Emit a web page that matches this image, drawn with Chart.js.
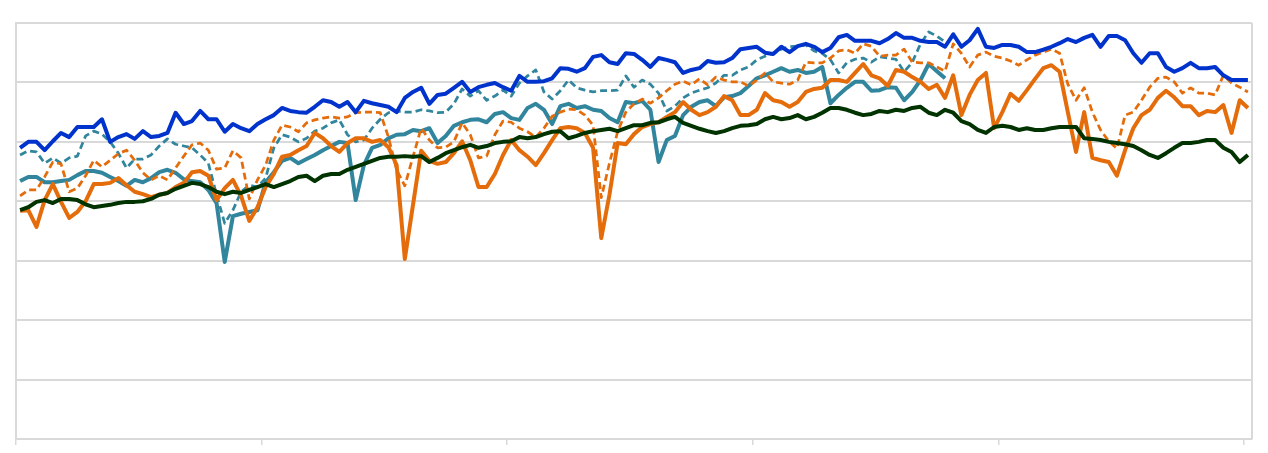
<!DOCTYPE html>
<html>
<head>
<meta charset="utf-8">
<script src="https://cdn.jsdelivr.net/npm/chart.js@4.4.0/dist/chart.umd.min.js"></script>
<style>
  html, body { margin: 0; padding: 0; background: #fff; }
  #wrap { width: 1268px; height: 453px; position: relative; }
</style>
</head>
<body>
<div id="wrap"><canvas id="chart"></canvas></div>
<script>
// ── Data (y units 0–70) ─────────────────────────────────────
const periods = Array.from({ length: 151 }, (_, i) => i);
const tickPositions = [-0.5, 29.5, 59.5, 89.5, 119.5, 149.5];

const blueSeries = [
  49.0, 50.0, 50.0, 48.6, 50.1, 51.5, 50.8, 52.5, 52.5, 52.5, 53.8, 50.0, 50.8, 51.3, 50.5, 51.8, 50.8, 51.0, 51.5, 54.9,
  53.0, 53.5, 55.2, 53.8, 53.8, 51.7, 53.0, 52.3, 51.8, 53.0, 53.8, 54.5, 55.7, 55.2, 55.0, 54.9, 55.9, 57.0, 56.7, 55.9,
  56.7, 55.0, 56.9, 56.5, 56.2, 55.9, 55.0, 57.4, 58.4, 59.1, 56.4, 57.9, 58.1, 59.1, 60.1, 58.4, 59.2, 59.6, 59.9, 59.2,
  58.6, 61.1, 60.1, 60.1, 60.2, 60.7, 62.4, 62.3, 61.8, 62.4, 64.3, 64.6, 63.4, 63.1, 64.9, 64.8, 63.8, 62.6, 64.1, 63.8,
  63.4, 61.6, 62.1, 62.4, 63.6, 63.3, 63.4, 64.1, 65.6, 65.8, 66.0, 65.0, 64.8, 66.0, 65.1, 66.1, 66.5, 66.0, 65.1, 65.8,
  67.6, 68.0, 67.0, 67.0, 67.0, 66.6, 67.3, 68.3, 67.5, 67.5, 67.0, 66.8, 66.8, 66.0, 68.1, 66.0, 67.1, 69.0, 66.0, 65.8,
  66.3, 66.3, 66.0, 65.1, 65.1, 65.5, 66.0, 66.6, 67.3, 66.8, 67.5, 68.0, 66.0, 67.8, 67.8, 67.1, 64.9, 63.3, 64.9, 64.9,
  62.6, 61.8, 62.4, 63.3, 62.4, 62.4, 62.6, 61.2, 60.4, 60.4, 60.4,
];

const tealSeries = [
  43.4, 44.1, 44.1, 43.2, 43.2, 43.4, 43.6, 44.4, 45.1, 45.1, 44.8, 44.1, 43.4, 42.6, 43.6, 43.2, 43.9, 44.9, 45.3, 44.8,
  43.7, 43.4, 43.2, 41.9, 39.7, 29.8, 37.5, 37.9, 38.2, 38.5, 43.2, 44.9, 46.8, 47.3, 46.4, 47.1, 47.8, 48.6, 49.3, 50.0,
  49.8, 40.2, 46.1, 49.0, 49.5, 50.6, 51.2, 51.3, 52.0, 51.8, 52.3, 49.8, 51.0, 52.7, 53.3, 53.7, 53.8, 53.3, 54.7, 55.0,
  54.0, 53.7, 55.7, 56.4, 55.4, 53.0, 56.0, 56.4, 55.7, 56.0, 55.4, 55.2, 54.0, 53.3, 56.7, 56.5, 56.9, 55.4, 46.6, 50.3,
  51.0, 54.5, 55.9, 56.7, 57.0, 56.0, 57.5, 57.7, 58.2, 59.4, 60.7, 61.2, 61.8, 62.4, 61.8, 62.1, 61.6, 61.8, 62.6, 56.5,
  57.9, 59.1, 60.1, 60.1, 58.6, 58.7, 59.2, 59.1, 57.0, 58.4, 60.4, 63.1, 61.9, 60.7,
];

const tealDashedSeries = [
  47.8, 48.5, 48.3, 46.4, 47.3, 46.4, 47.3, 47.6, 51.0, 51.8, 51.3, 50.0, 48.1, 45.6, 47.1, 47.1, 47.8, 49.3, 50.5, 49.6,
  49.3, 49.0, 47.8, 46.4, 41.1, 36.3, 38.5, 41.6, 42.7, 42.4, 43.9, 49.0, 51.2, 50.8, 50.0, 50.6, 51.8, 52.3, 53.2, 53.7,
  51.2, 50.0, 50.3, 52.3, 53.8, 54.9, 55.2, 55.0, 55.0, 55.4, 55.2, 54.9, 55.0, 56.4, 58.9, 57.7, 58.6, 57.0, 57.7, 58.7,
  57.7, 59.9, 61.1, 62.1, 58.4, 57.2, 58.6, 60.4, 59.1, 58.7, 58.4, 58.6, 58.6, 58.7, 61.1, 59.2, 60.4, 59.7, 58.2, 55.2,
  56.0, 57.4, 58.2, 58.7, 59.1, 59.9, 61.2, 61.2, 62.1, 62.6, 63.8, 64.4, 64.9, 65.6, 66.0, 66.1, 66.3, 65.3, 64.9, 63.8,
  61.6, 63.3, 63.9, 64.1, 63.4, 64.3, 64.1, 63.9, 61.8, 63.4, 66.5, 68.5, 67.8, 66.8,
];

const orangeSeries = [
  38.4, 38.5, 35.7, 40.2, 42.9, 39.9, 37.2, 38.2, 40.0, 42.9, 42.9, 43.1, 43.9, 42.7, 41.6, 41.2, 40.7, 41.1, 41.4, 42.4,
  43.1, 44.9, 45.1, 44.3, 40.2, 42.2, 43.6, 40.9, 36.7, 39.0, 42.4, 44.6, 47.5, 47.8, 48.6, 49.3, 51.5, 50.6, 49.3, 48.3,
  49.8, 50.6, 50.6, 50.0, 50.3, 49.1, 46.1, 30.3, 39.4, 48.5, 46.8, 46.3, 46.6, 48.1, 50.1, 46.9, 42.4, 42.4, 44.6, 47.8,
  50.3, 48.6, 47.5, 46.1, 48.1, 50.3, 52.3, 52.5, 52.3, 51.5, 49.0, 33.8, 41.1, 49.8, 49.6, 51.3, 52.5, 53.0, 53.3, 54.2,
  55.0, 56.7, 55.4, 54.5, 55.0, 55.9, 57.7, 57.0, 54.5, 54.5, 55.4, 58.2, 57.0, 56.7, 55.9, 56.7, 58.4, 58.9, 59.1, 60.4,
  60.4, 60.1, 61.6, 63.1, 61.2, 60.7, 59.4, 62.1, 61.8, 60.9, 60.1, 58.9, 59.6, 57.4, 61.2, 54.5, 57.9, 60.4, 61.6, 52.3,
  55.0, 58.1, 56.9, 58.7, 60.6, 62.4, 62.9, 61.8, 55.0, 48.3, 55.0, 47.3, 46.9, 46.6, 44.3, 48.6, 52.3, 54.5, 55.4, 57.4,
  58.6, 57.5, 56.0, 56.0, 54.5, 55.2, 55.0, 56.2, 51.5, 57.0, 55.7,
];

const orangeDashedSeries = [
  40.9, 41.9, 41.9, 44.1, 46.6, 46.3, 41.6, 42.2, 44.3, 46.9, 45.8, 46.9, 48.0, 48.6, 46.9, 44.8, 43.6, 44.3, 43.6, 45.6,
  47.6, 49.5, 49.8, 48.6, 45.4, 45.6, 48.5, 47.3, 40.4, 43.6, 46.1, 50.3, 52.8, 52.5, 51.7, 53.2, 53.7, 54.0, 54.2, 54.0,
  54.2, 54.9, 55.0, 55.0, 54.9, 50.8, 45.3, 42.6, 47.5, 52.3, 50.3, 49.0, 49.1, 50.0, 53.2, 51.2, 47.3, 47.6, 51.2, 53.5,
  53.3, 52.3, 51.7, 50.8, 52.3, 54.3, 55.0, 55.5, 55.4, 54.5, 52.8, 40.6, 46.4, 51.7, 55.0, 56.4, 57.2, 56.5, 57.4, 58.6,
  59.7, 60.2, 59.6, 60.6, 59.6, 60.9, 60.4, 60.1, 60.1, 59.4, 60.4, 61.6, 60.1, 59.9, 59.7, 60.4, 63.4, 63.3, 63.3, 64.1,
  65.3, 65.5, 64.9, 66.5, 66.1, 64.4, 64.6, 64.6, 65.6, 63.4, 63.3, 63.3, 62.6, 61.9, 66.5, 64.9, 62.6, 64.6, 65.1, 64.4,
  64.1, 63.6, 62.9, 63.8, 64.6, 65.1, 65.6, 64.9, 59.7, 57.0, 59.1, 55.0, 52.0, 50.1, 48.9, 54.5, 55.0, 57.0, 59.2, 60.7,
  60.9, 60.1, 58.2, 59.1, 58.2, 58.2, 57.9, 61.2, 59.9, 59.2, 58.4,
];

const greenSeries = [
  38.5, 39.0, 39.9, 40.2, 39.7, 40.4, 40.4, 40.2, 39.5, 39.0, 39.2, 39.4, 39.7, 39.9, 39.9, 40.0, 40.4, 41.1, 41.4, 42.1,
  42.6, 43.1, 42.9, 42.4, 41.6, 41.2, 41.6, 41.4, 41.9, 42.4, 42.9, 42.4, 42.9, 43.4, 44.1, 44.3, 43.4, 44.3, 44.6, 44.6,
  45.3, 45.8, 46.3, 46.8, 47.3, 47.5, 47.5, 47.6, 47.5, 47.6, 46.6, 47.3, 48.1, 48.6, 49.1, 49.5, 49.0, 49.3, 49.8, 50.0,
  50.1, 50.8, 50.6, 50.8, 51.3, 51.7, 51.8, 50.6, 51.0, 51.5, 51.8, 52.0, 52.2, 51.8, 52.3, 52.8, 52.8, 53.2, 53.3, 53.8,
  54.2, 53.2, 52.7, 52.2, 51.8, 51.5, 51.8, 52.3, 52.7, 52.8, 53.0, 53.8, 54.2, 53.8, 54.0, 54.5, 53.8, 54.2, 54.9, 55.7,
  55.7, 55.4, 54.9, 54.5, 54.7, 55.2, 55.0, 55.4, 55.2, 55.7, 55.9, 54.9, 54.5, 55.4, 54.9, 53.5, 53.0, 52.0, 51.5, 52.5,
  52.7, 52.5, 52.0, 52.3, 52.0, 52.0, 52.3, 52.5, 52.5, 52.5, 50.6, 50.5, 50.3, 50.0, 49.8, 49.6, 49.3, 48.6, 47.8, 47.3,
  48.1, 49.0, 49.8, 49.8, 50.0, 50.3, 50.3, 49.0, 48.3, 46.6, 47.8,
];

// ── Styling ─────────────────────────────────────────────────
const GRID = '#d9d9d9';

// Closes the plot frame on the right-hand side
const frame = {
  id: 'frame',
  beforeDatasetsDraw(chart) {
    const { ctx, chartArea: a } = chart;
    ctx.save();
    ctx.strokeStyle = GRID;
    ctx.lineWidth = 2;
    ctx.beginPath();
    ctx.moveTo(a.right, a.top);
    ctx.lineTo(a.right, a.bottom);
    ctx.stroke();
    ctx.restore();
  },
};

const line = (data, color, width, dash) => ({
  data,
  borderColor: color,
  borderWidth: width,
  borderDash: dash || [],
  pointRadius: 0,
  tension: 0,
  fill: false,
  borderJoinStyle: 'round',
});

new Chart(document.getElementById('chart'), {
  type: 'line',
  data: {
    labels: periods,
    datasets: [
      line(blueSeries, '#0033cc', 4),
      line(greenSeries, '#003300', 4),
      line(orangeDashedSeries, '#e46c0a', 2.75, [7, 4]),
      line(orangeSeries, '#e46c0a', 4),
      line(tealDashedSeries, '#31859c', 2.75, [7, 4]),
      line(tealSeries, '#31859c', 4),
    ],
  },
  options: {
    responsive: true,
    maintainAspectRatio: false,
    animation: false,
    layout: { padding: { left: 16, top: 23, right: 16, bottom: 8 } },
    plugins: { legend: { display: false }, tooltip: { enabled: false } },
    scales: {
      x: {
        type: 'linear',
        min: -0.5,
        max: 150.5,
        afterBuildTicks: (scale) => { scale.ticks = tickPositions.map(v => ({ value: v })); },
        ticks: { display: false },
        grid: { drawOnChartArea: false, drawTicks: true, tickLength: 6, color: GRID, lineWidth: 1.5 },
        border: { display: true, color: GRID, width: 2 },
      },
      y: {
        min: 0,
        max: 70,
        ticks: { display: false, stepSize: 10 },
        grid: { color: GRID, lineWidth: 2, drawTicks: false },
        border: { display: true, color: GRID, width: 2 },
      },
    },
  },
  plugins: [frame],
});
</script>
</body>
</html>
